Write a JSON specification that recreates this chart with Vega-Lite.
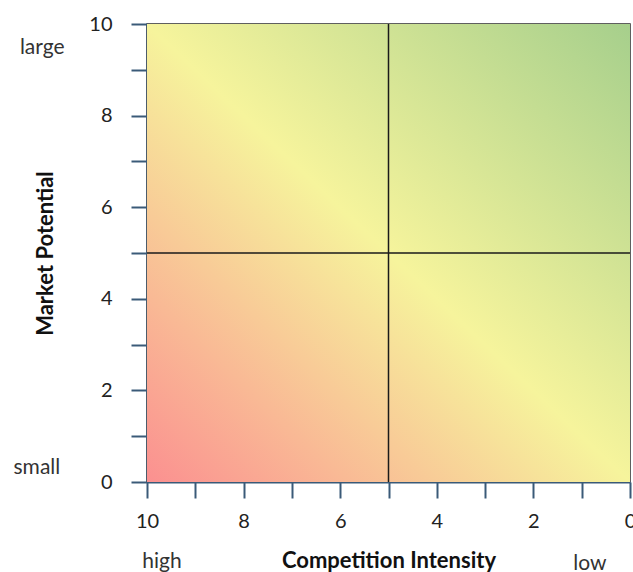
{
  "$schema": "https://vega.github.io/schema/vega-lite/v6.json",
  "width": 483,
  "height": 458,
  "autosize": {"type": "none"},
  "padding": {"left": 147, "top": 24, "right": 3, "bottom": 90},
  "background": "white",
  "config": {
    "view": {"stroke": "#2b2b2b", "strokeWidth": 1.5},
    "font": "Lato",
    "axis": {
      "grid": false,
      "domainColor": "#3a5a78",
      "domainWidth": 2,
      "tickColor": "#3a5a78",
      "tickWidth": 2,
      "tickSize": 16,
      "labelFontSize": 20,
      "labelColor": "#222222",
      "labelFont": "Lato",
      "titleFont": "Lato",
      "titleFontSize": 22,
      "titleFontWeight": "bold",
      "titleColor": "#111111"
    }
  },
  "datasets": {
    "bg": [{"x0": 10, "x1": 0, "y0": 0, "y1": 10}],
    "divider": [{"x": 5, "y": 5}],
    "notes": [
      {"label": "large", "x": 12.17, "y": 9.48},
      {"label": "small", "x": 12.28, "y": 0.31},
      {"label": "high", "x": 9.69, "y": -1.75},
      {"label": "low", "x": 0.83, "y": -1.78}
    ]
  },
  "layer": [
    {
      "data": {"name": "bg"},
      "mark": {
        "type": "rect",
        "color": {
          "gradient": "linear",
          "x1": 0, "y1": 1, "x2": 1, "y2": 0,
          "stops": [
            {"offset": 0, "color": "#fb9090"},
            {"offset": 0.5, "color": "#f6f49c"},
            {"offset": 1, "color": "#a6cf8c"}
          ]
        }
      },
      "encoding": {
        "x": {
          "field": "x0", "type": "quantitative",
          "scale": {"domain": [0, 10], "reverse": true, "nice": false},
          "axis": {
            "title": "Competition Intensity",
            "values": [0, 1, 2, 3, 4, 5, 6, 7, 8, 9, 10],
            "labelExpr": "datum.value % 2 === 0 ? datum.label : ''",
            "labelPadding": 13,
            "titlePadding": 19,
            "labelFlush": false,
            "labelOverlap": false
          }
        },
        "x2": {"field": "x1"},
        "y": {
          "field": "y0", "type": "quantitative",
          "scale": {"domain": [0, 10], "nice": false},
          "axis": {
            "title": "Market Potential",
            "values": [0, 1, 2, 3, 4, 5, 6, 7, 8, 9, 10],
            "labelExpr": "datum.value % 2 === 0 ? datum.label : ''",
            "labelPadding": 19,
            "titlePadding": 31,
            "labelFlush": false,
            "labelOverlap": false
          }
        },
        "y2": {"field": "y1"}
      }
    },
    {
      "data": {"name": "divider"},
      "mark": {"type": "rule", "color": "#1a1a1a", "strokeWidth": 1.5},
      "encoding": {"x": {"field": "x", "type": "quantitative"}}
    },
    {
      "data": {"name": "divider"},
      "mark": {"type": "rule", "color": "#1a1a1a", "strokeWidth": 1.5},
      "encoding": {"y": {"field": "y", "type": "quantitative"}}
    },
    {
      "data": {"name": "notes"},
      "mark": {"type": "text", "clip": false, "fontSize": 21, "color": "#333333", "font": "Lato"},
      "encoding": {
        "x": {"field": "x", "type": "quantitative"},
        "y": {"field": "y", "type": "quantitative"},
        "text": {"field": "label"}
      }
    }
  ]
}
